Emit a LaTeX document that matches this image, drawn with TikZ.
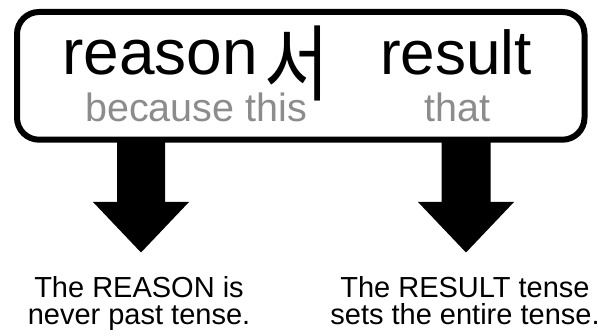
\documentclass[tikz,border=0pt]{standalone}
\usepackage{fontspec}
\setmainfont{Liberation Sans}
\newfontfamily\krfont{Noto Sans CJK KR}
\usetikzlibrary{calc}
\definecolor{subgray}{gray}{0.55}
\begin{document}
\begin{tikzpicture}[x=1pt,y=1pt,
  word/.style={inner sep=0pt, anchor=base west},
  bigword/.style={word, font=\fontsize{64}{64}\selectfont},
  subword/.style={inner sep=0pt, anchor=base, text=subgray, font=\fontsize{39.5}{39.5}\selectfont},
  note/.style={inner sep=0pt, anchor=north, align=center, font=\fontsize{29}{27.5}\selectfont},
  fatarrow/.style={fill=black}]
\useasboundingbox (0,0) rectangle (598,336);
\node[draw, line width=6pt, rounded corners=22pt, minimum width=567.5pt, minimum height=127.7pt, inner sep=0pt] (frame) at (300.75,260.15) {};
\node[bigword] (reason) at (62,261) {reason};
\node[inner sep=0pt] (seo) at (297,273) {\krfont\scalebox{0.85}[1]{\fontsize{83}{83}\selectfont 서}};
\node[bigword, font=\fontsize{62}{62}\selectfont] (result) at (380,261) {result};
\node[subword] (because) at (196,214) {because this};
\node[subword] (that) at (457.5,214) {that};
\coordinate (ltip) at (141,83.5);
\coordinate (rtip) at (466,83.5);
\fill[fatarrow] (ltip) -- ++(-48,50.5) -- ++(24,0) -- ++(0,64) -- ++(48,0) -- ++(0,-64) -- ++(24,0) -- cycle;
\fill[fatarrow] (rtip) -- ++(-48,50.5) -- ++(23.5,0) -- ++(0,64) -- ++(49,0) -- ++(0,-64) -- ++(23.5,0) -- cycle;
\node[note] (lnote) at (139,60) {The REASON is\\never past tense.};
\node[note] (rnote) at (465,60) {The RESULT tense\\sets the entire tense.};
\end{tikzpicture}
\end{document}
